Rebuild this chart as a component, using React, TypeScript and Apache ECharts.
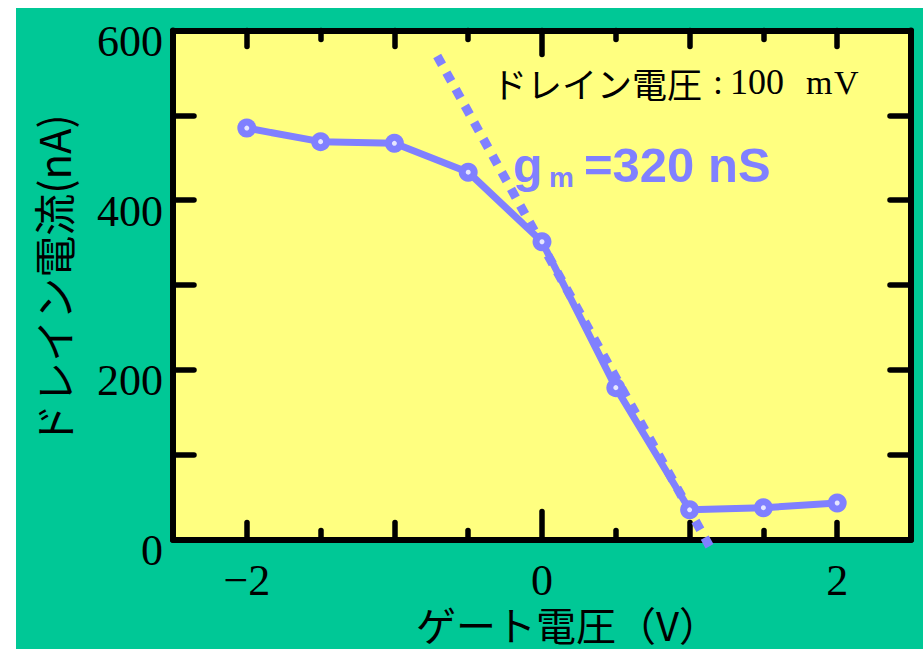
import React, { useEffect, useRef } from "react";
import * as echarts from "echarts";

// Data
const gateVoltage = [-2, -1.5, -1, -0.5, 0, 0.5, 1, 1.5, 2];
const drainCurrent = [485, 469, 467, 433, 351, 179, 35, 37.5, 43];
// tangent line (gm = 320 nS)
const gmLineX = [-0.71, 1.135];
const gmLineY = [570, -8];

const xMajorTicks = [-2, -1, 1, 2];
const xZeroTick = [0];
const xMinorTicks = [-1.5, -0.5, 0.5, 1.5];
const xTickLabels = [-2, 0, 2];
const yTickLabels = [0, 200, 400, 600];

const BLUE = "#8080FF";
const SERIF = '"Liberation Serif", "DejaVu Serif", serif';
const JP = '"Noto Sans CJK JP", sans-serif';
const SANS = '"Liberation Sans", Arial, sans-serif';

export default function App() {
  const ref = useRef<HTMLDivElement>(null);
  useEffect(() => {
    if (!ref.current) return;
    const chart = echarts.init(ref.current, null, { renderer: "svg" });

    const tickStyle = { color: "#000", width: 5.5, cap: "round" };
    const mkX = (position: string, values: number[], length: number, main: boolean, labels: boolean) => ({
      type: "value",
      position,
      min: -2.5,
      max: 2.5,
      splitLine: { show: false },
      axisLine: { show: main, onZero: false, lineStyle: { color: "#000", width: 6 } },
      axisTick: { show: true, inside: true, length, customValues: values, lineStyle: tickStyle },
      axisLabel: labels
        ? {
            show: true,
            customValues: xTickLabels,
            formatter: (v: number) => (v < 0 ? "\u2212" + Math.abs(v) : String(v)),
            fontFamily: SERIF,
            fontSize: 44,
            lineHeight: 36,
            color: "#000",
            margin: 23,
          }
        : { show: false },
    });

    const mkY = (position: string, labels: boolean) => ({
      type: "value",
      position,
      min: 0,
      max: 600,
      interval: 100,
      splitLine: { show: false },
      axisLine: { show: true, onZero: false, lineStyle: { color: "#000", width: 6 } },
      axisTick: { show: true, inside: true, length: 21, lineStyle: tickStyle },
      axisLabel: labels
        ? {
            show: true,
            customValues: yTickLabels,
            fontFamily: SERIF,
            fontSize: 44,
            color: "#000",
            margin: 10,
            verticalAlign: "top",
            lineHeight: 22,
          }
        : { show: false },
    });

    const mainData = gateVoltage.map((x, i) => [x, drainCurrent[i]]);
    const gmData = gmLineX.map((x, i) => [x, gmLineY[i]]);

    chart.setOption({
      animation: false,
      backgroundColor: "#00C896",
      grid: {
        left: 157,
        right: 12,
        top: 22.5,
        bottom: 109.5,
        show: true,
        backgroundColor: "#FFFF80",
        borderWidth: 0,
      },
      xAxis: [
        mkX("bottom", xMajorTicks, 17, true, true),
        mkX("bottom", xZeroTick, 28, false, false),
        mkX("bottom", xMinorTicks, 9, false, false),
        mkX("top", xMajorTicks, 16, true, false),
        mkX("top", xZeroTick, 24, false, false),
        mkX("top", xMinorTicks, 9, false, false),
      ],
      yAxis: [mkY("left", true), mkY("right", false)],
      series: [
        {
          type: "line",
          data: gmData,
          xAxisIndex: 0,
          yAxisIndex: 0,
          showSymbol: false,
          symbol: "none",
          clip: false,
          z: 2,
          lineStyle: { color: BLUE, width: 9, type: [10, 9], cap: "butt" },
        },
        {
          type: "line",
          data: mainData,
          xAxisIndex: 0,
          yAxisIndex: 0,
          symbol: "circle",
          symbolSize: 19,
          z: 3,
          itemStyle: { color: BLUE },
          lineStyle: { color: BLUE, width: 7 },
        },
        {
          type: "scatter",
          data: mainData,
          xAxisIndex: 0,
          yAxisIndex: 0,
          symbol: "circle",
          symbolSize: 5,
          z: 4,
          itemStyle: { color: "#FFFFFF" },
        },
      ],
      graphic: [
        {
          type: "text",
          x: 36,
          y: 272,
          rotation: Math.PI / 2,
          style: {
            text: "ドレイン電流(nA)",
            fontFamily: JP,
            fontSize: 42,
            fill: "#000",
            align: "center",
            verticalAlign: "middle",
          },
        },
        {
          type: "text",
          x: 400,
          y: 616,
          style: {
            text: "ゲート電圧（V）",
            fontFamily: JP,
            fontSize: 40,
            lineHeight: 40,
            fill: "#000",
            align: "left",
            verticalAlign: "middle",
          },
        },
        {
          type: "text",
          x: 476,
          y: 74,
          style: { text: "ドレイン電圧", fontFamily: JP, fontSize: 35, fill: "#000", align: "left", verticalAlign: "middle" },
        },
        {
          type: "text",
          x: 697,
          y: 74,
          style: { text: ":", fontFamily: SERIF, fontSize: 36, fill: "#000", align: "left", verticalAlign: "middle" },
        },
        {
          type: "text",
          x: 714,
          y: 74,
          style: { text: "100", fontFamily: SERIF, fontSize: 36, fill: "#000", align: "left", verticalAlign: "middle" },
        },
        {
          type: "text",
          x: 790,
          y: 74,
          style: { text: "m", fontFamily: SERIF, fontSize: 34, fill: "#000", align: "left", verticalAlign: "middle" },
        },
        {
          type: "text",
          x: 818,
          y: 74,
          style: { text: "V", fontFamily: SERIF, fontSize: 34, fill: "#000", align: "left", verticalAlign: "middle" },
        },
        {
          type: "text",
          x: 497,
          y: 157,
          style: { text: "g", fontFamily: SANS, fontWeight: "bold", fontSize: 48, fill: BLUE, align: "left", verticalAlign: "middle" },
        },
        {
          type: "text",
          x: 533,
          y: 169,
          style: { text: "m", fontFamily: SANS, fontWeight: "bold", fontSize: 28, fill: BLUE, align: "left", verticalAlign: "middle" },
        },
        {
          type: "text",
          x: 568,
          y: 157,
          style: { text: "=320 nS", fontFamily: SANS, fontWeight: "bold", fontSize: 49, fill: BLUE, align: "left", verticalAlign: "middle" },
        },
      ],
    });
    return () => chart.dispose();
  }, []);

  return (
    <div
      ref={ref}
      style={{ position: "fixed", left: 16, top: 8, width: 907, height: 641 }}
    />
  );
}
